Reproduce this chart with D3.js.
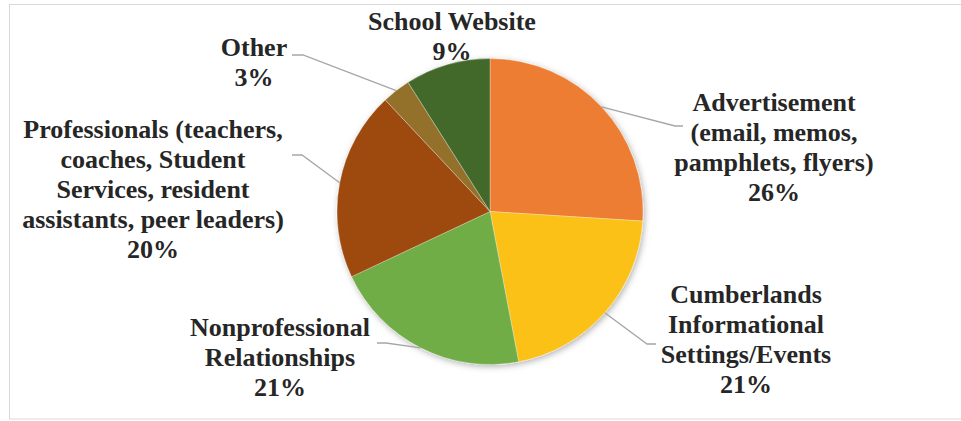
<!DOCTYPE html>
<html>
<head>
<meta charset="utf-8">
<script src="https://cdn.jsdelivr.net/npm/d3@7"></script>
<style>
  html, body { margin: 0; padding: 0; background: #fff; }
  svg { display: block; }
</style>
</head>
<body>
<svg id="chart" width="961" height="421"></svg>
<script>
// Source categories, in clockwise order from 12 o'clock
const categories = [
  "Advertisement (email, memos, pamphlets, flyers)",
  "Cumberlands Informational Settings/Events",
  "Nonprofessional Relationships",
  "Professionals (teachers, coaches, Student Services, resident assistants, peer leaders)",
  "Other",
  "School Website"
];
// Share of respondents, percent
const values = [26, 21, 21, 20, 3, 9];
// How each category name wraps in its label
const labelLines = [
  ["Advertisement", "(email, memos,", "pamphlets, flyers)"],
  ["Cumberlands", "Informational", "Settings/Events"],
  ["Nonprofessional", "Relationships"],
  ["Professionals (teachers,", "coaches, Student", "Services, resident", "assistants, peer leaders)"],
  ["Other"],
  ["School Website"]
];
const colors = ["#ED7D31", "#FBC117", "#70AD47", "#9E480E", "#94712C", "#43682B"];

// Label placement: centre x, first baseline y, and leader elbow points (null = no leader)
const labelLayout = [
  { x: 774, y: 111, leader: [[675, 126], [683, 126]] },
  { x: 746, y: 303, leader: [[647, 344], [656, 344]] },
  { x: 280, y: 336, leader: [[386, 343], [377, 343]] },
  { x: 153, y: 138, leader: [[302, 155], [292, 155]] },
  { x: 254, y: 56,  leader: [[303, 55], [292, 55]] },
  { x: 452, y: 30,  leader: null }
];

const svg = d3.select("#chart");
const cx = 490, cy = 211.5, r = 153;
const lineH = 30;

// Frame
svg.append("rect")
  .attr("x", 9.5).attr("y", 4.5)
  .attr("width", 970).attr("height", 414.5)
  .attr("fill", "none").attr("stroke", "#D9D9D9").attr("stroke-width", 1);

const defs = svg.append("defs");
const shadow = defs.append("filter").attr("id", "pieShadow")
  .attr("x", "-20%").attr("y", "-20%").attr("width", "140%").attr("height", "140%");
shadow.append("feDropShadow")
  .attr("dx", 1.5).attr("dy", 2).attr("stdDeviation", 3)
  .attr("flood-color", "#000").attr("flood-opacity", 0.3);

const data = categories.map((c, i) => ({ name: c, value: values[i], i }));
const pie = d3.pie().value(d => d.value).sort(null);
const arcs = pie(data);
const arc = d3.arc().innerRadius(0).outerRadius(r);
const edge = d3.arc().innerRadius(r).outerRadius(r);

const g = svg.append("g").attr("transform", `translate(${cx},${cy})`);
g.append("g").attr("filter", "url(#pieShadow)")
  .selectAll("path").data(arcs).join("path")
  .attr("d", arc)
  .attr("fill", d => colors[d.data.i])
  .attr("stroke", "#fff").attr("stroke-width", 0.5).attr("stroke-opacity", 0.6);

// Leader lines from the slice's outer midpoint to the label
const line = d3.line();
arcs.forEach(a => {
  const lay = labelLayout[a.data.i];
  if (!lay.leader) return;
  const [ex, ey] = edge.centroid(a);
  const pts = [[cx + ex, cy + ey], ...lay.leader];
  svg.append("path")
    .attr("d", line(pts))
    .attr("fill", "none").attr("stroke", "#A6A6A6").attr("stroke-width", 1.3);
});

// Labels
arcs.forEach(a => {
  const i = a.data.i;
  const lay = labelLayout[i];
  const lines = labelLines[i].concat([d3.format(".0f")(a.data.value) + "%"]);
  const t = svg.append("text")
    .attr("text-anchor", "middle")
    .attr("font-family", "Liberation Serif")
    .attr("font-weight", "bold")
    .attr("font-size", 26)
    .attr("fill", "#262626");
  lines.forEach((s, k) => {
    t.append("tspan").attr("x", lay.x).attr("y", lay.y + k * lineH).text(s);
  });
});
</script>
</body>
</html>
